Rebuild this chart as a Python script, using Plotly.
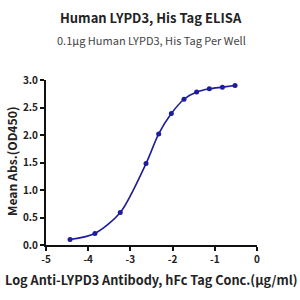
import plotly.graph_objects as go

log_conc = [-4.43, -3.84, -3.24, -2.63, -2.33, -2.03, -1.73, -1.43, -1.13, -0.82, -0.52]
mean_abs = [0.10, 0.21, 0.59, 1.48, 2.02, 2.39, 2.65, 2.78, 2.84, 2.87, 2.90]
x_ticks = [-5, -4, -3, -2, -1, 0]
y_ticks = [0.0, 0.5, 1.0, 1.5, 2.0, 2.5, 3.0]

color = "#1c1c9c"
font = "Noto Sans CJK SC, Noto Sans, sans-serif"

fig = go.Figure()
fig.add_trace(go.Scatter(
    x=log_conc, y=mean_abs, mode="lines+markers",
    line=dict(color=color, width=1.6, shape="spline", smoothing=0.8),
    marker=dict(color=color, size=5),
    showlegend=False,
))

fig.update_layout(
    width=300, height=300,
    margin=dict(l=46, r=43, t=80, b=55),
    paper_bgcolor="white", plot_bgcolor="white",
    font=dict(family=font, color="#222"),
)

def py(pix):
    return (245 - pix) / 165.0
def px(pix):
    return (pix - 46) / 211.0

fig.add_annotation(text="<b>Human LYPD3, His Tag ELISA</b>", x=px(151), y=py(17), xref="paper", yref="paper",
                   showarrow=False, font=dict(size=13, color="#222", family=font), xanchor="center", yanchor="middle")
fig.add_annotation(text="0.1μg Human LYPD3, His Tag Per Well", x=px(151), y=py(40), xref="paper", yref="paper",
                   showarrow=False, font=dict(size=11, color="#444", family=font), xanchor="center", yanchor="middle")
fig.add_annotation(text="<b>Log Anti-LYPD3 Antibody, hFc Tag Conc.(μg/ml)</b>", x=px(151), y=py(279), xref="paper", yref="paper",
                   showarrow=False, font=dict(size=12.7, color="#222", family=font), xanchor="center", yanchor="middle")
fig.add_annotation(text="<b>Mean Abs.(OD450)</b>", x=px(12), y=py(161), xref="paper", yref="paper", textangle=-90,
                   showarrow=False, font=dict(size=12.2, color="#222", family=font), xanchor="center", yanchor="middle")

fig.update_xaxes(range=[-5, 0], tickvals=x_ticks, ticktext=[f"<b>{v}</b>" for v in x_ticks],
                 showline=True, linecolor="#111", linewidth=2, ticks="outside", ticklen=4, tickwidth=2,
                 tickcolor="#111", showgrid=False, zeroline=False,
                 tickfont=dict(size=10, color="#222", family=font))
fig.update_yaxes(range=[0, 3], tickvals=y_ticks, ticktext=[f"<b>{v:.1f}</b>" for v in y_ticks],
                 showline=True, linecolor="#111", linewidth=2, ticks="outside", ticklen=4, tickwidth=2,
                 tickcolor="#111", showgrid=False, zeroline=False,
                 tickfont=dict(size=10, color="#222", family=font))

fig.write_html("out.html")
